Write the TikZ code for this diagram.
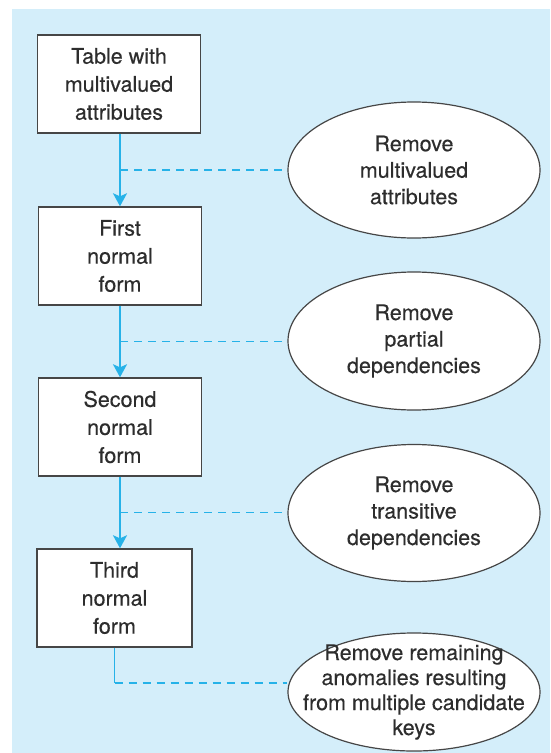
\documentclass[tikz,border=0pt]{standalone}
\usepackage{fontspec}
\setmainfont[FakeBold=0.35]{TeX Gyre Heros}
\usetikzlibrary{shapes.geometric,arrows.meta,calc}
\definecolor{bg}{RGB}{212,238,250}
\definecolor{flow}{RGB}{38,178,232}
\definecolor{ink}{RGB}{45,45,45}
\definecolor{edge}{RGB}{70,70,70}
\begin{document}
\begin{tikzpicture}[x=1pt,y=-1pt,
  boxnode/.style={draw=edge, line width=1.4pt, fill=white, minimum width=163pt, minimum height=98pt, align=center, font=\fontsize{21.5}{28}\selectfont, text=ink, inner sep=0pt},
  ellnode/.style={ellipse, draw=edge, line width=1.2pt, fill=white, minimum width=252pt, minimum height=136pt, inner sep=-40pt, align=center, font=\fontsize{21.5}{26.5}\selectfont, text=ink},
  flowarrow/.style={draw=flow, line width=1.8pt, -{Stealth[length=13pt,width=14pt,inset=3pt]}},
  flowline/.style={draw=flow, line width=1.8pt},
  flowdash/.style={draw=flow, line width=1.8pt, dash pattern=on 8pt off 6pt}]
\useasboundingbox (0,0) rectangle (550,753);
\fill[bg] (12,9) rectangle (550,753);

\node[boxnode] (b1) at (119,84) {Table with\\multivalued\\attributes};
\node[boxnode] (b2) at (120,256) {First\\normal\\form};
\node[boxnode] (b3) at (120,427) {Second\\normal\\form};
\node[boxnode, minimum width=155pt] (b4) at (114.5,598) {Third\\normal\\form};

\node[ellnode] (e1) at (414,170) {Remove\\multivalued\\attributes};
\node[ellnode, minimum height=138pt] (e2) at (414,341) {Remove\\partial\\dependencies};
\node[ellnode, minimum height=137pt] (e3) at (414,513) {Remove\\transitive\\dependencies};
\node[ellnode, minimum height=118pt, font=\fontsize{21.5}{25}\selectfont] (e4) at (414,692) {Remove remaining\\anomalies resulting\\from multiple candidate\\keys};

\draw[flowarrow] (b2.north |- b1.south) -- (b2.north);
\draw[flowarrow] (b2.south) -- (b3.north);
\draw[flowarrow] (b3.south) -- (b3.south |- b4.north);

\coordinate (m1) at ($(b2.north |- b1.south)!0.5!(b2.north)$);
\coordinate (m2) at ($(b2.south)!0.5!(b3.north)$);
\coordinate (m3) at ($(b3.south)!0.5!(b3.south |- b4.north)$);
\coordinate (c4) at ($(b4.south)+(0,35)$);

\draw[flowdash] (m1) -- (m1 -| e1.west);
\draw[flowdash] (m2) -- (m2 -| e2.west);
\draw[flowdash] (m3) -- (m3 -| e3.west);
\draw[flowline] (b4.south) -- (c4);
\draw[flowdash] (c4) -- (c4 -| e4.west);
\end{tikzpicture}
\end{document}
